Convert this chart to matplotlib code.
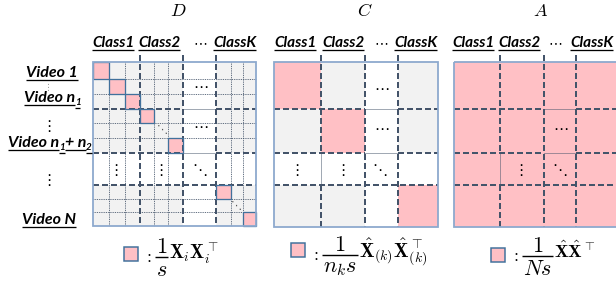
import matplotlib

matplotlib.use("Agg")
import matplotlib.pyplot as plt
from matplotlib.patches import Rectangle

W, H = 616, 286

TITLES = ["D", "C", "A"]
CLASS_HEADERS = ["Class1", "Class2", "ClassK"]
# each row label is a list of (text, is_subscript) runs
VIDEO_LABELS = [
    [("Video 1", False)],
    [("Video n", False), ("1", True)],
    [("Video n", False), ("1", True), ("+ n", False), ("2", True)],
    [("Video N", False)],
]
# legend formulas: (numerator, denominator, rest)
FORMULAS = [
    ("1", "s", r"\mathbf{X}_i\mathbf{X}_i^{\top}"),
    ("1", "n_k s", r"\hat{\mathbf{X}}_{(k)}\hat{\mathbf{X}}_{(k)}^{\top}"),
    ("1", "Ns", r"\hat{\mathbf{X}}\hat{\mathbf{X}}^{\top}"),
]
# highlighted cells (row, col) of each matrix
D_PINK = [(0, 0), (1, 1), (2, 2), (3, 3), (5, 5), (7, 7), (9, 9)]
C_PINK = [(0, 0), (1, 1), (3, 3)]
A_PINK = [(r, c) for r in range(4) for c in range(4)]

PINK = "#FFC0C5"
GREY = "#F2F2F2"
LINE = "#44546A"
BORDER = "#8DA9CE"
CELL_EDGE = "#41719C"
LABEL_FONT = dict(family="Lato", weight="bold", style="italic")

# pixel geometry of the three matrices
D_XS = [93, 109, 125, 140, 154, 168, 183, 216, 231, 243, 256]
D_YS = [62, 79, 94, 109, 123, 138, 153, 185, 199, 212, 226]
C_XS = [274, 321, 365, 398, 438]
A_XS = [454, 500, 544, 576, 660]
CA_YS = [62, 109, 153, 185, 227]

fig = plt.figure(figsize=(W / 100, H / 100), dpi=100)
ax = fig.add_axes([0, 0, 1, 1])
ax.set_xlim(0, W)
ax.set_ylim(H, 0)
ax.axis("off")
renderer = fig.canvas.get_renderer()


def px(v):
    return v * 0.72


def width(t):
    return t.get_window_extent(renderer).width


def draw_matrix(xs, ys, blocks, gap, pink, soft_h, soft_v, fine, pink_edge):
    nr, nc = len(ys) - 1, len(xs) - 1
    for r in range(nr):
        for c in range(nc):
            if (r, c) in pink:
                fc = PINK
            elif r == gap or c == gap:
                fc = "white"
            else:
                fc = GREY
            ax.add_patch(Rectangle((xs[c], ys[r]), xs[c + 1] - xs[c], ys[r + 1] - ys[r],
                                   facecolor=fc, edgecolor="none", zorder=1))
    if fine:
        for i in range(1, nc):
            if i not in blocks:
                ax.plot([xs[i], xs[i]], [ys[0], ys[-1]], color=LINE, lw=px(0.9),
                        ls=(0, (1, 1)), zorder=2)
        for i in range(1, nr):
            if i not in blocks:
                ax.plot([xs[0], xs[-1]], [ys[i], ys[i]], color=LINE, lw=px(0.9),
                        ls=(0, (1, 1)), zorder=2)
    dash = dict(color=LINE, lw=px(2.0), ls=(0, (3, 1.5)), zorder=4)
    dot = dict(color=LINE, lw=px(1.0), ls=(0, (1, 1)), zorder=4)
    gx0, gx1 = xs[gap], xs[gap + 1]
    gy0, gy1 = ys[gap], ys[gap + 1]
    for i in blocks:
        y = ys[i]
        if y in soft_h:
            ax.plot([xs[0], gx0], [y, y], **dash)
            ax.plot([gx0, gx1], [y, y], **dot)
            ax.plot([gx1, xs[-1]], [y, y], **dash)
        else:
            ax.plot([xs[0], xs[-1]], [y, y], **dash)
        x = xs[i]
        if x in soft_v:
            ax.plot([x, x], [ys[0] - 7, gy0], **dash)
            ax.plot([x, x], [gy0, gy1], **dot)
            ax.plot([x, x], [gy1, ys[-1]], **dash)
        else:
            ax.plot([x, x], [ys[0] - 7, ys[-1]], **dash)
    if pink_edge:
        for r, c in pink:
            ax.add_patch(Rectangle((xs[c], ys[r]), xs[c + 1] - xs[c], ys[r + 1] - ys[r],
                                   facecolor="none", edgecolor=CELL_EDGE, lw=px(1.3), zorder=5))
    ax.add_patch(Rectangle((xs[0], ys[0]), xs[-1] - xs[0], ys[-1] - ys[0],
                           facecolor="none", edgecolor=BORDER, lw=px(1.8), zorder=6))


def dots(x, y, s, size=11, color="black"):
    ax.text(x, y, s, ha="center", va="center", fontsize=size, color=color,
            family="DejaVu Sans", zorder=7)


def underlined(x, y, runs, ha="left", size=11):
    items = []
    for s, sub in runs:
        fs = size * 0.62 if sub else size
        dy = 3 if sub else 0
        t = ax.text(0, y + dy, s, fontsize=fs, ha="left", va="baseline", **LABEL_FONT, zorder=7)
        items.append((t, width(t), dy))
    total = sum(w for _, w, _ in items)
    x0 = {"left": x, "center": x - total / 2, "right": x - total}[ha]
    for t, w, dy in items:
        t.set_x(x0)
        ax.plot([x0, x0 + w], [y + dy + 3, y + dy + 3], color="black", lw=px(1.3),
                solid_capstyle="butt", zorder=7)
        x0 += w


def formula(x, bar_y, num, den, rest, rest_size):
    colon = ax.text(x, bar_y, "$:$", ha="left", va="center", fontsize=13, math_fontfamily="cm")
    x += width(colon) + 3
    n = ax.text(0, bar_y - 4, f"${num}$", ha="center", va="baseline", fontsize=16,
                math_fontfamily="cm")
    d = ax.text(0, bar_y + 3, f"${den}$", ha="center", va="top", fontsize=16,
                math_fontfamily="cm")
    fw = max(width(n), width(d)) + 2
    n.set_x(x + fw / 2)
    d.set_x(x + fw / 2)
    ax.plot([x, x + fw], [bar_y, bar_y], color="black", lw=px(1.4), solid_capstyle="butt")
    ax.text(x + fw + 1, bar_y + 2.5, f"${rest}$", ha="left", va="baseline", fontsize=rest_size,
            math_fontfamily="cm")


# matrices
draw_matrix(D_XS, D_YS, [3, 6, 7], 6, D_PINK, {109, 153}, set(), True, True)
draw_matrix(C_XS, CA_YS, [1, 2, 3], 2, C_PINK, {109, 153}, {321}, False, False)
draw_matrix(A_XS, CA_YS, [1, 2, 3], 2, A_PINK, {109, 153}, {500}, False, False)

# ellipses inside the matrices
dots(201, 87, "\u22ef")
dots(201, 128, "\u22ef")
dots(116, 170, "\u22ee")
dots(161, 170, "\u22ee")
dots(200, 170, "\u22f1")
dots(162, 130, "\u22f1", size=8, color="#555555")
dots(236, 206, "\u22f1", size=8, color="#555555")
dots(382, 89, "\u22ef")
dots(382, 130, "\u22ef")
dots(297, 170, "\u22ee")
dots(343, 170, "\u22ee")
dots(380, 170, "\u22f1")
dots(561, 130, "\u22ef")
dots(521, 170, "\u22ee")
dots(560, 170, "\u22f1")

# titles
for x, title in zip([178, 365, 541], TITLES):
    ax.text(x, 11, f"${title}$", ha="center", va="center", fontsize=13,
            math_fontfamily="cm")

# class headers
header_x = [[92, 138, 213], [274, 322, 394], [452, 498, 570]]
gap_x = [200, 381, 555]
for xs, gx in zip(header_x, gap_x):
    for x, label in zip(xs, CLASS_HEADERS):
        underlined(x, 47, [(label, False)])
    ax.text(gx, 43, "\u22ef", ha="center", va="center", fontsize=10, family="DejaVu Sans")

# video labels
underlined(52, 77, VIDEO_LABELS[0], ha="center", size=11.5)
underlined(52, 102, VIDEO_LABELS[1], ha="center", size=11.5)
underlined(92, 147, VIDEO_LABELS[2], ha="right", size=11.5)
underlined(49, 224, VIDEO_LABELS[3], ha="center", size=11.5)
dots(49, 87.5, "\u22ee", size=6.5, color="#999999")
dots(49, 127, "\u22ee")
dots(49, 181, "\u22ee")

# legend squares and formulas
for sx, sy, by, rs, (num, den, rest) in zip([124, 291, 491], [247, 243, 248], [257, 255, 256],
                                            [13.5, 14, 13], FORMULAS):
    ax.add_patch(Rectangle((sx, sy), 14, 14, facecolor=PINK, edgecolor=CELL_EDGE,
                           lw=px(1.5), zorder=5))
    formula(sx + 19, by, num, den, rest, rs)

fig.savefig("out.png", dpi=100)
